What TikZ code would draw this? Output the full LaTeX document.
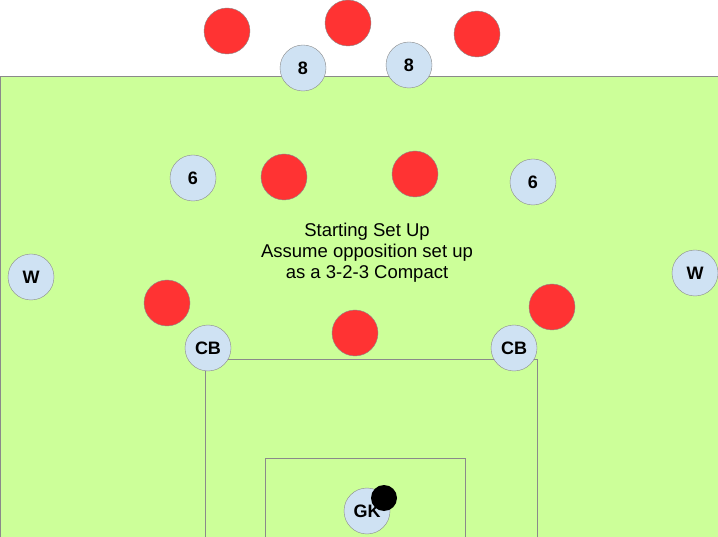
\documentclass[tikz,border=0pt]{standalone}
\usepackage{fontspec}
\setmainfont{Liberation Sans}
\usepackage{tikz}
\usetikzlibrary{positioning}
\definecolor{pitch}{HTML}{CCFF99}
\definecolor{kit}{HTML}{CFE2F3}
\definecolor{rivalred}{HTML}{FF3333}
\definecolor{edgegray}{HTML}{8A8A8A}
\tikzstyle{own} = [circle, draw=edgegray, fill=kit, minimum size=46pt, inner sep=0pt, font=\fontsize{18}{18}\selectfont\bfseries]
\tikzstyle{rival} = [circle, draw=edgegray, fill=rivalred, minimum size=46pt, inner sep=0pt]
\tikzstyle{ballnode} = [circle, fill=black, minimum size=26pt, inner sep=0pt]
\tikzstyle{pitchline} = [draw=edgegray, line width=1pt]

\begin{document}
\begin{tikzpicture}[x=1pt, y=-1pt]
            \useasboundingbox (0,0) rectangle (718,537);
            % pitch and boxes
            \fill[pitch] (0,76) rectangle (718,537);
            \draw[pitchline] (0.5,537) -- (0.5,76.5) -- (718,76.5);
            \draw[pitchline] (205,537) |- (537,360) -- (537,537);
            \draw[pitchline] (265,537) |- (465,458) -- (465,537);

            % opposition 3-2-3
            \node[rival] (r1) at (227,31) {};
            \node[rival] (r2) at (348,23) {};
            \node[rival] (r3) at (477,34) {};
            \node[rival] (r4) at (284,177) {};
            \node[rival] (r5) at (415,174) {};
            \node[rival] (r6) at (167,303) {};
            \node[rival] (r7) at (355,333) {};
            \node[rival] (r8) at (552,307) {};

            % own team
            \node[own] (eightL) at (303,68) {8};
            \node[own] (eightR) at (409,65) {8};
            \node[own] (sixL) at (193,178) {6};
            \node[own] (sixR) at (533,182) {6};
            \node[own] (wL) at (31,277) {W};
            \node[own] (wR) at (695,273) {W};
            \node[own] (cbL) at (208,348) {CB};
            \node[own] (cbR) at (514,348) {CB};
            \node[own] (gk) at (367,511) {GK};
            \node[ballnode] (ball) at (384,498) {};

            \node[align=center, font=\fontsize{18.5}{21}\selectfont] (info) at (367,253)
                {Starting Set Up\\Assume opposition set up\\as a 3-2-3 Compact};
            \end{tikzpicture}
\end{document}
